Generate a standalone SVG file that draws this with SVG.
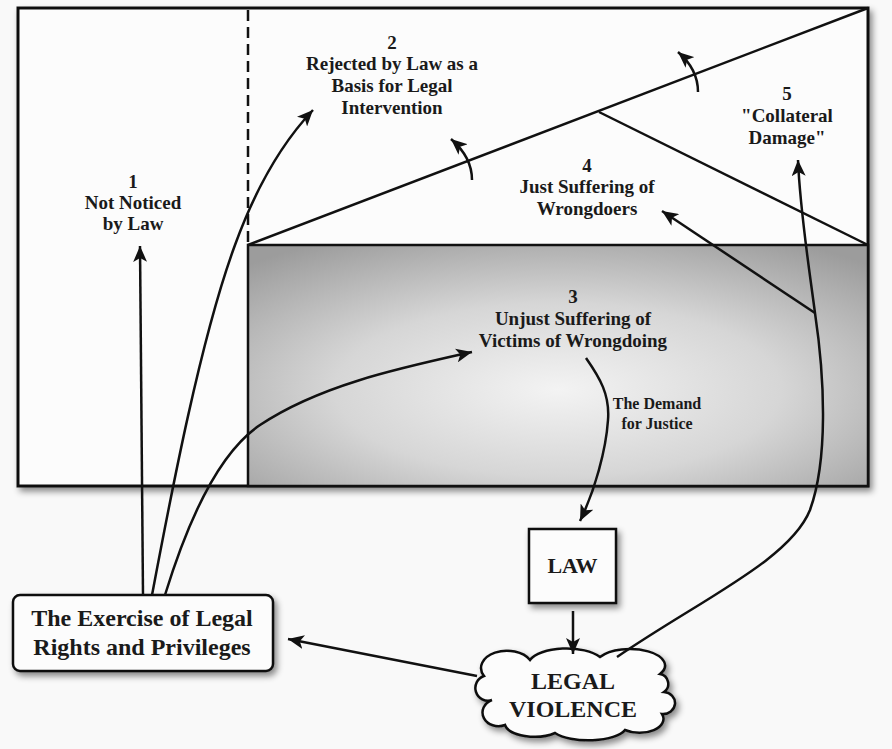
<svg xmlns="http://www.w3.org/2000/svg" width="892" height="749" viewBox="0 0 892 749">
<defs>
<style>
.t{font-family:"Liberation Serif","Times New Roman",serif;font-weight:bold;fill:#1a1a1a;text-anchor:middle}
.l{font-size:19px}
.s{font-size:16px}
.b{font-size:24px}
.c{fill:none;stroke:#111;stroke-width:2.5}
.a{marker-end:url(#ah)}
</style>
<marker id="ah" markerUnits="userSpaceOnUse" markerWidth="18" markerHeight="14" refX="16" refY="7" orient="auto">
<path d="M0,0 L16,7 L0,14 L4,7 z" fill="#111"/>
</marker>
<radialGradient id="g" cx="0.5" cy="0.6" r="0.72">
<stop offset="0" stop-color="#f3f3f3"/>
<stop offset="0.5" stop-color="#d6d6d6"/>
<stop offset="1" stop-color="#9c9c9c"/>
</radialGradient>
<filter id="sh" x="-10%" y="-10%" width="130%" height="140%">
<feDropShadow dx="3" dy="4" stdDeviation="3" flood-color="#000" flood-opacity="0.45"/>
</filter>
</defs>
<rect width="892" height="749" fill="#f9f9f9"/>

<g id="frame">
<rect x="18" y="8" width="850" height="478" fill="#fcfcfc" stroke="#111" stroke-width="3" filter="url(#sh)"/>
<rect x="248" y="245" width="620" height="241" fill="url(#g)" stroke="#111" stroke-width="2.5"/>
<line x1="248" y1="10" x2="248" y2="245" stroke="#111" stroke-width="2.5" stroke-dasharray="11,6"/>
<line x1="248" y1="245" x2="868" y2="8" stroke="#111" stroke-width="2.5"/>
<line x1="599" y1="112" x2="868" y2="245" stroke="#111" stroke-width="2.5"/>
</g>

<g id="region1">
<text class="t l" x="133" y="188">1</text>
<text class="t l" x="133" y="209">Not Noticed</text>
<text class="t l" x="133" y="230">by Law</text>
</g>
<g id="region2">
<text class="t l" x="392" y="49">2</text>
<text class="t l" x="392" y="70">Rejected by Law as a</text>
<text class="t l" x="392" y="92">Basis for Legal</text>
<text class="t l" x="392" y="114">Intervention</text>
</g>
<g id="region3">
<text class="t l" x="573" y="303">3</text>
<text class="t l" x="573" y="325">Unjust Suffering of</text>
<text class="t l" x="573" y="347">Victims of Wrongdoing</text>
</g>
<g id="region4">
<text class="t l" x="587" y="172">4</text>
<text class="t l" x="587" y="193">Just Suffering of</text>
<text class="t l" x="587" y="215">Wrongdoers</text>
</g>
<g id="region5">
<text class="t l" x="787" y="100">5</text>
<text class="t l" x="787" y="122">"Collateral</text>
<text class="t l" x="787" y="144">Damage"</text>
</g>

<g id="exercise">
<rect x="13" y="595" width="260" height="76" rx="7" fill="#fcfcfc" stroke="#111" stroke-width="2.5" filter="url(#sh)"/>
<text class="t b" x="142" y="626">The Exercise of Legal</text>
<text class="t b" x="142" y="655">Rights and Privileges</text>
</g>

<g id="law">
<rect x="529" y="529" width="87" height="74" fill="#fcfcfc" stroke="#111" stroke-width="2.5" filter="url(#sh)"/>
<text class="t" x="572.5" y="573" font-size="22">LAW</text>
</g>

<g id="violence">
<path d="M492,700 A12,12 0 0 1 484,676 A24,16 0 0 1 530,660 A38,16 0 0 1 600,657 A34,16 0 0 1 660,674 A10,10 0 0 1 664,692 A12,11 0 0 1 662,714 A24,14 0 0 1 625,730 A38,14 0 0 1 555,733 A30,14 0 0 1 505,725 A14,12 0 0 1 492,700 Z" fill="#fcfcfc" stroke="#111" stroke-width="2.5" filter="url(#sh)"/>
<text class="t b" x="573" y="689">LEGAL</text>
<text class="t b" x="573" y="717">VIOLENCE</text>
</g>

<g id="connectors">
<path class="c a" d="M143,595 L140,246"/>
<path class="c a" d="M152,595 C170,500 200,340 235,245 C255,190 280,145 313,110"/>
<path class="c a" d="M165,595 C185,530 215,455 260,425 C320,385 400,368 472,352"/>
<path class="c a" d="M472,180 C472,165 466,152 451,139"/>
<path class="c a" d="M698,92 C698,77 692,64 678,52"/>
<path class="c a" d="M586,358 C600,378 610,395 608,420 C606,450 595,490 580,521"/>
<path class="c a" d="M573,611 L573,654"/>
<path class="c a" d="M477,676 L288,639"/>
<path class="c a" d="M617,657 C700,600 790,560 810,510 C828,460 825,380 815,313 C808,260 800,210 798,160"/>
<path class="c a" d="M815,313 L662,211"/>
<g id="demand-label">
<text class="t s" x="657" y="409">The Demand</text>
<text class="t s" x="657" y="429">for Justice</text>
</g>
</g>
</svg>
